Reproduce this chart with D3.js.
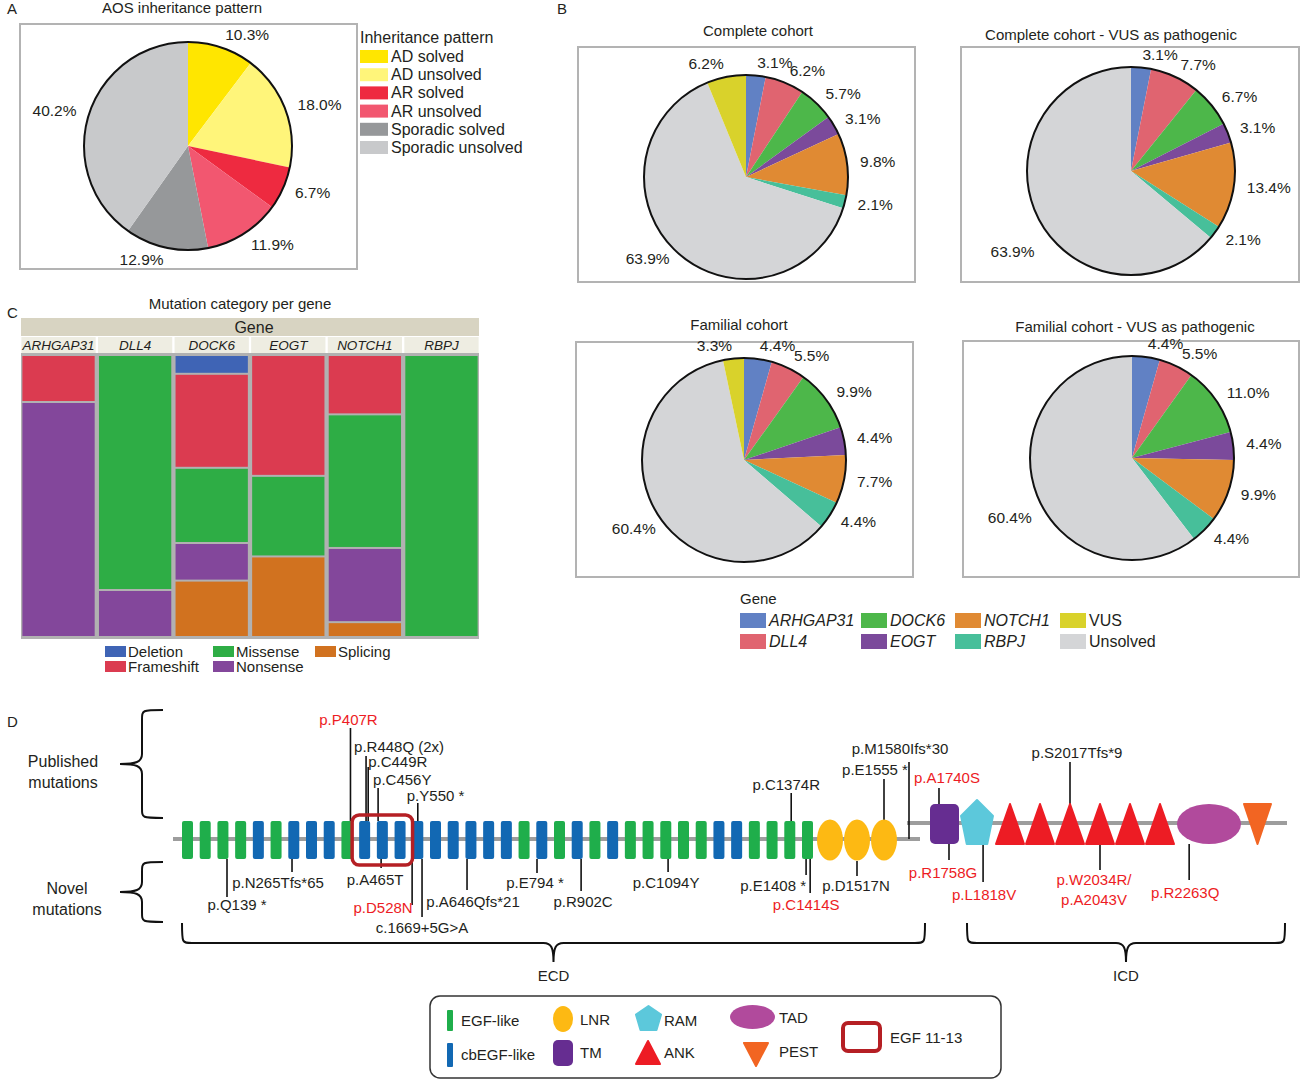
<!DOCTYPE html>
<html>
<head>
<meta charset="utf-8">
<script src="https://cdn.jsdelivr.net/npm/d3@7"></script>
<style>
  body { margin: 0; background: #fff; }
  svg { display: block; font-family: "Liberation Sans", Arial, sans-serif; }
</style>
</head>
<body>
<svg id="fig" width="1303" height="1081"></svg>
<script>
// ---------- data ----------
// A: inheritance pattern
const inheritCats   = ["AD solved", "AD unsolved", "AR solved", "AR unsolved", "Sporadic solved", "Sporadic unsolved"];
const inheritPct    = [10.3, 18.0, 6.7, 11.9, 12.9, 40.2];
const inheritColors = ["#ffe600", "#fff57a", "#ee2a40", "#f25770", "#96989a", "#c8c9cb"];

// B: gene distribution (clockwise from top)
const pieCats   = ["ARHGAP31", "DLL4", "DOCK6", "EOGT", "NOTCH1", "RBPJ", "Unsolved", "VUS"];
const pieColors = ["#6181c4", "#e06470", "#4db74a", "#7b4a9b", "#e08a33", "#47bf9a", "#d4d5d7", "#d9d22b"];
const completePct     = [3.1, 6.2, 5.7, 3.1, 9.8, 2.1, 63.9, 6.2];
const completeVusPct  = [3.1, 7.7, 6.7, 3.1, 13.4, 2.1, 63.9, 0];
const familialPct     = [4.4, 5.5, 9.9, 4.4, 7.7, 4.4, 60.4, 3.3];
const familialVusPct  = [4.4, 5.5, 11.0, 4.4, 9.9, 4.4, 60.4, 0];
const geneLegendOrder = ["ARHGAP31", "DLL4", "DOCK6", "EOGT", "NOTCH1", "RBPJ", "VUS", "Unsolved"];

// C: mutation category per gene (counts)
const mutGenes  = ["ARHGAP31", "DLL4", "DOCK6", "EOGT", "NOTCH1", "RBPJ"];
const mutCats   = ["Deletion", "Frameshift", "Missense", "Nonsense", "Splicing"];
const mutColors = ["#3f64b5", "#db3b50", "#2ead45", "#83479b", "#d1721f"];
const deletionN   = [0, 0, 1, 0, 0, 0];
const frameshiftN = [1, 0, 5, 3, 4, 0];
const missenseN   = [0, 5, 4, 2, 9, 1];
const nonsenseN   = [5, 1, 2, 0, 5, 0];
const splicingN   = [0, 0, 3, 2, 1, 0];

// D: NOTCH1 domains
const egfRepeats = "GGGGBGBBBGBBBBBBBBBGBGBGBGGGGGBBGGGG".split("").map(c => c === "G" ? "EGF" : "cbEGF");
const lnrRepeats = ["LNR", "LNR", "LNR"];
const icdDomains = ["TM", "RAM", "ANK", "ANK", "ANK", "ANK", "ANK", "ANK", "TAD", "PEST"];
const domColors = { EGF: "#1fae4b", cbEGF: "#1268b3", LNR: "#fdb913", TM: "#662d91",
                    RAM: "#5cc8db", ANK: "#ed1c24", TAD: "#b14a9c", PEST: "#f26522" };

// mutations: region, domain position, side, red = highlighted label
const mutations = [
  { name: "p.P407R",        reg: "egf", at: 9.2,   side: "up",   red: true },
  { name: "p.R448Q  (2x)",  reg: "egf", at: 10.08, side: "up",   red: false },
  { name: "p.C449R",        reg: "egf", at: 10.2,  side: "up",   red: false },
  { name: "p.C456Y",        reg: "egf", at: 10.76, side: "up",   red: false },
  { name: "p.Y550 *",       reg: "egf", at: 13,    side: "up",   red: false },
  { name: "p.C1374R",       reg: "egf", at: 34.08, side: "up",   red: false },
  { name: "p.E1555 *",      reg: "lnr", at: 2,     side: "up",   red: false },
  { name: "p.M1580Ifs*30",  reg: "jm",  at: 0,     side: "up",   red: false },
  { name: "p.A1740S",       reg: "icd", at: -0.19, dom: 0, side: "up", red: true },
  { name: "p.S2017Tfs*9",   reg: "icd", at: 0,     dom: 4, side: "up", red: false },
  { name: "p.Q139 *",       reg: "egf", at: 2.23,  side: "down", red: false },
  { name: "p.N265Tfs*65",   reg: "egf", at: 5.9,   side: "down", red: false },
  { name: "p.A465T",        reg: "egf", at: 10.93, side: "down", red: false },
  { name: "p.D528N",        reg: "egf", at: 12.68, side: "down", red: true },
  { name: "c.1669+5G>A",    reg: "egf", at: 13.24, side: "down", red: false },
  { name: "p.A646Qfs*21",   reg: "egf", at: 15.78, side: "down", red: false },
  { name: "p.E794 *",       reg: "egf", at: 19.73, side: "down", red: false },
  { name: "p.R902C",        reg: "egf", at: 22.22, side: "down", red: false },
  { name: "p.C1094Y",       reg: "egf", at: 27.13, side: "down", red: false },
  { name: "p.E1408 *",      reg: "egf", at: 34.92, side: "down", red: false },
  { name: "p.C1414S",       reg: "egf", at: 35.15, side: "down", red: true },
  { name: "p.D1517N",       reg: "lnr", at: 1,     side: "down", red: false },
  { name: "p.R1758G",       reg: "icd", at: 0.155, dom: 0, side: "down", red: true },
  { name: "p.L1818V",       reg: "icd", at: 0.19,  dom: 1, side: "down", red: true },
  { name: "p.W2034R/|p.A2043V", reg: "icd", at: 0, dom: 5, side: "down", red: true },
  { name: "p.R2263Q",       reg: "icd", at: -0.31, dom: 8, side: "down", red: true }
];

// label layout: [line end y, text dx, text baseline y, anchor]
const mutLabelLayout = {
  "p.P407R": [728, -2, 725, "middle"],
  "p.R448Q  (2x)": [756, -12, 752, "start"],
  "p.C449R": [767, 0, 767, "start"],
  "p.C456Y": [788, -5, 785, "start"],
  "p.Y550 *": [803, -11, 801, "start"],
  "p.C1374R": [793, -5, 790, "middle"],
  "p.E1555 *": [779, -9, 775, "middle"],
  "p.M1580Ifs*30": [762, -9, 754, "middle"],
  "p.A1740S": [788, 8, 783, "middle"],
  "p.S2017Tfs*9": [762, 7, 758, "middle"],
  "p.Q139 *": [897, 10, 910, "middle"],
  "p.N265Tfs*65": [872, -14, 888, "middle"],
  "p.A465T": [868, -6, 885, "middle"],
  "p.D528N": [905, -29, 913, "middle"],
  "c.1669+5G>A": [917, 0, 933, "middle"],
  "p.A646Qfs*21": [890, 6, 907, "middle"],
  "p.E794 *": [873, -2, 888, "middle"],
  "p.R902C": [891, 2, 907, "middle"],
  "p.C1094Y": [872, -2, 888, "middle"],
  "p.E1408 *": [875, -33, 891, "middle"],
  "p.C1414S": [893, -4, 910, "middle"],
  "p.D1517N": [876, -1, 891, "middle"],
  "p.R1758G": [860, -6, 878, "middle"],
  "p.L1818V": [882, 1, 900, "middle"],
  "p.W2034R/|p.A2043V": [870, -6, 885, "middle"],
  "p.R2263Q": [880, -4, 898, "middle"]
};

// ---------- drawing ----------
const svg = d3.select("#fig");
const INK = "#231f20", RED = "#ed1c24";
svg.append("rect").attr("width", 1303).attr("height", 1081).attr("fill", "#fff");

function txt(g, x, y, s, o = {}) {
  return g.append("text").attr("x", x).attr("y", y).text(s)
    .attr("font-size", o.size || 15)
    .attr("text-anchor", o.anchor || "start")
    .attr("fill", o.fill || INK)
    .attr("font-style", o.italic ? "italic" : null);
}

// bigLabel: optional [angle in degrees, distance] for the "Unsolved" label
function drawPie(cx, cy, r, values, colors, bigLabel) {
  const g = svg.append("g").attr("transform", `translate(${cx},${cy})`);
  const arcs = d3.pie().sort(null).value(d => d.v)(values.map((v, i) => ({ v, c: colors[i] })));
  const arc = d3.arc().innerRadius(0).outerRadius(r);
  g.selectAll("path").data(arcs).join("path").attr("d", arc).attr("fill", d => d.data.c);
  g.append("circle").attr("r", r).attr("fill", "none").attr("stroke", "#111").attr("stroke-width", 2);
  const maxV = d3.max(values);
  arcs.filter(d => d.data.v > 0).forEach(d => {
    let a = (d.startAngle + d.endAngle) / 2, lr = r + 13;
    if (bigLabel && d.data.v === maxV) { a = bigLabel[0] * Math.PI / 180; lr = bigLabel[1]; }
    const x = Math.sin(a) * lr, y = -Math.cos(a) * lr;
    txt(g, x, y + 5, d.data.v.toFixed(1) + "%", { anchor: x >= 0 ? "start" : "end", size: 15.5 });
  });
}

function box(x, y, w, h) {
  svg.append("rect").attr("x", x).attr("y", y).attr("width", w).attr("height", h)
    .attr("fill", "none").attr("stroke", "#b3b3b3").attr("stroke-width", 2);
}

// ---- Panel A ----
txt(svg, 7, 14, "A");
txt(svg, 182, 13, "AOS inheritance pattern", { anchor: "middle" });
box(20, 24, 337, 245);
drawPie(188, 146, 104, inheritPct, inheritColors);
txt(svg, 360, 43, "Inheritance pattern", { size: 16 });
const legA = svg.append("g");
inheritCats.forEach((c, i) => {
  const y = 50 + i * 18.2;
  legA.append("rect").attr("x", 360).attr("y", y).attr("width", 28).attr("height", 13).attr("fill", inheritColors[i]);
  txt(legA, 391, y + 12, c, { size: 16 });
});

// ---- Panel B ----
txt(svg, 557, 14, "B");
box(578, 47, 337, 235);
box(961, 47, 338, 235);
box(576, 342, 337, 235);
box(963, 341, 336, 236);
txt(svg, 758, 36, "Complete cohort", { anchor: "middle" });
txt(svg, 1111, 40, "Complete cohort - VUS as pathogenic", { anchor: "middle" });
txt(svg, 739, 330, "Familial cohort", { anchor: "middle" });
txt(svg, 1135, 332, "Familial cohort - VUS as pathogenic", { anchor: "middle" });
drawPie(746, 177, 102, completePct, pieColors, [223, 112]);
drawPie(1131, 171, 104, completeVusPct, pieColors, [230, 126]);
drawPie(744, 460, 102, familialPct, pieColors, [232, 112]);
drawPie(1132, 458, 102, familialVusPct, pieColors, [239, 117]);

txt(svg, 740, 604, "Gene");
const legB = svg.append("g");
const legBx = [740, 861, 955, 1060];
geneLegendOrder.forEach((c, i) => {
  const col = Math.floor(i / 2), row = i % 2;
  const x = legBx[col], y = 613 + row * 21;
  legB.append("rect").attr("x", x).attr("y", y).attr("width", 26).attr("height", 15)
    .attr("fill", pieColors[pieCats.indexOf(c)]);
  txt(legB, x + 29, y + 13, c, { size: 16, italic: c !== "VUS" && c !== "Unsolved" });
});

// ---- Panel C ----
txt(svg, 7, 318, "C");
txt(svg, 240, 309, "Mutation category per gene", { anchor: "middle" });
const catCounts = [deletionN, frameshiftN, missenseN, nonsenseN, splicingN];
const xC = d3.scaleBand().domain(mutGenes).range([21, 479]).paddingInner(0.03).paddingOuter(0.005);
const yC = d3.scaleLinear().domain([0, 1]).range([355, 637]);
const gC = svg.append("g");
gC.append("rect").attr("x", 21).attr("y", 318).attr("width", 458).attr("height", 18).attr("fill", "#d8d4c2");
txt(gC, 254, 333, "Gene", { anchor: "middle", size: 16 });
gC.append("rect").attr("x", 21).attr("y", 353).attr("width", 458).attr("height", 286).attr("fill", "#b1b1b1");
mutGenes.forEach((gname, gi) => {
  const x = xC(gname), w = xC.bandwidth();
  gC.append("rect").attr("x", x).attr("y", 337).attr("width", w).attr("height", 16).attr("fill", "#eeede2");
  txt(gC, x + w / 2, 350, gname, { anchor: "middle", size: 13.5, italic: true });
  const total = d3.sum(catCounts, a => a[gi]);
  let cum = 0;
  catCounts.forEach((arr, ci) => {
    const n = arr[gi];
    if (!n) return;
    const y0 = yC(cum / total), y1 = yC((cum + n) / total);
    gC.append("rect").attr("x", x + 1).attr("y", y0 + 1).attr("width", w - 2).attr("height", y1 - y0 - 2)
      .attr("fill", mutColors[ci]);
    cum += n;
  });
});
const legCx = [105, 213, 315];
mutCats.forEach((c, i) => {
  const col = Math.floor(i / 2), row = i % 2;
  const x = legCx[col], y = 646 + row * 15;
  gC.append("rect").attr("x", x).attr("y", y).attr("width", 21).attr("height", 11).attr("fill", mutColors[i]);
  txt(gC, x + 23, y + 11, c, { size: 15 });
});

// ---- Panel D ----
txt(svg, 7, 727, "D");
const gD = svg.append("g");
const yBack = 839, yIcd = 823;
const egfTop = 821, egfH = 38, egfW = 11;
const xEgf = d3.scaleLinear().domain([0, egfRepeats.length - 1]).range([187.5, 807.5]);
const xLnr = d3.scaleLinear().domain([0, lnrRepeats.length - 1]).range([830, 884]);
const jmX = 909;
const icdW = { TM: 29, RAM: 32, ANK: 30, TAD: 64, PEST: 29 };
const icdPos = [];
let cursor = 930;
icdDomains.forEach((d, i) => {
  icdPos.push({ type: d, x0: cursor, w: icdW[d] });
  cursor += icdW[d] + (d === "ANK" && icdDomains[i + 1] === "ANK" ? 0 : 2);
});
const icdTop = 804, icdBot = 844;

// backbone
gD.append("line").attr("x1", 173).attr("x2", 920).attr("y1", yBack).attr("y2", yBack)
  .attr("stroke", "#9d9d9d").attr("stroke-width", 4);
gD.append("line").attr("x1", 907).attr("x2", 1287).attr("y1", yIcd).attr("y2", yIcd)
  .attr("stroke", "#9d9d9d").attr("stroke-width", 4);

function mutX(m) {
  if (m.reg === "egf") return xEgf(m.at);
  if (m.reg === "lnr") return xLnr(m.at);
  if (m.reg === "jm") return jmX;
  const p = icdPos[m.dom];
  return p.x0 + p.w / 2 + m.at * p.w;
}
function mutStart(m) {
  if (m.reg === "egf") return m.side === "up" ? egfTop : egfTop + egfH;
  if (m.reg === "lnr") return m.side === "up" ? 820 : 861;
  if (m.reg === "jm") return yBack;
  return m.side === "up" ? icdTop : icdBot;
}

// mutation stems
mutations.forEach(m => {
  const L = mutLabelLayout[m.name];
  const x = mutX(m);
  gD.append("line").attr("x1", x).attr("x2", x).attr("y1", mutStart(m)).attr("y2", L[0])
    .attr("stroke", "#111").attr("stroke-width", 1.6);
});

// EGF repeats
gD.selectAll("rect.egf").data(egfRepeats).join("rect").attr("class", "egf")
  .attr("x", (d, i) => xEgf(i) - egfW / 2).attr("y", egfTop)
  .attr("width", egfW).attr("height", egfH).attr("rx", 2)
  .attr("fill", d => domColors[d]);
// LNR
gD.selectAll("ellipse.lnr").data(lnrRepeats).join("ellipse").attr("class", "lnr")
  .attr("cx", (d, i) => xLnr(i)).attr("cy", 840).attr("rx", 13).attr("ry", 20.5)
  .attr("fill", domColors.LNR);

function pentagon(cx, top, w, h) {
  return `M${cx},${top} L${cx + w / 2},${top + h * 0.36} L${cx + w * 0.32},${top + h} L${cx - w * 0.32},${top + h} L${cx - w / 2},${top + h * 0.36}Z`;
}
function tri(x0, top, w, h, down) {
  return down
    ? `M${x0},${top} L${x0 + w},${top} L${x0 + w / 2},${top + h}Z`
    : `M${x0 + w / 2},${top} L${x0 + w},${top + h} L${x0},${top + h}Z`;
}
function drawIcdShape(g, type, x0, top, w, h) {
  const c = domColors[type];
  if (type === "TM") g.append("rect").attr("x", x0).attr("y", top).attr("width", w).attr("height", h).attr("rx", 5).attr("fill", c);
  else if (type === "RAM") g.append("path").attr("d", pentagon(x0 + w / 2, top - 4, w, h + 4)).attr("fill", c).attr("stroke", c).attr("stroke-linejoin", "round").attr("stroke-width", 2);
  else if (type === "ANK") g.append("path").attr("d", tri(x0 + 1, top, w - 2, h, false)).attr("fill", c).attr("stroke", c).attr("stroke-linejoin", "round").attr("stroke-width", 2);
  else if (type === "TAD") g.append("ellipse").attr("cx", x0 + w / 2).attr("cy", top + h / 2).attr("rx", w / 2).attr("ry", h / 2).attr("fill", c);
  else if (type === "PEST") g.append("path").attr("d", tri(x0 + 1, top, w - 2, h, true)).attr("fill", c).attr("stroke", c).attr("stroke-linejoin", "round").attr("stroke-width", 2);
}
icdPos.forEach(p => drawIcdShape(gD, p.type, p.x0, icdTop, p.w, icdBot - icdTop));

// EGF 11-13 box
gD.append("rect").attr("x", xEgf(10) - egfW / 2 - 7).attr("y", 815)
  .attr("width", xEgf(12) - xEgf(10) + egfW + 14).attr("height", 50).attr("rx", 7)
  .attr("fill", "none").attr("stroke", "#b51f24").attr("stroke-width", 3.5);

// mutation labels
mutations.forEach(m => {
  const L = mutLabelLayout[m.name];
  const x = mutX(m) + L[1];
  m.name.split("|").forEach((s, k) => {
    txt(gD, x, L[2] + k * 20, s, { anchor: L[3], fill: m.red ? RED : INK });
  });
});

// braces
function leftBrace(x0, xs, xt, y0, y1) {
  const ym = (y0 + y1) / 2, k = 10;
  return `M${x0},${y0} C${xs},${y0} ${xs},${y0} ${xs},${y0 + k} L${xs},${ym - k} C${xs},${ym - 2} ${xs - 6},${ym} ${xt},${ym} ` +
         `C${xs - 6},${ym} ${xs},${ym + 2} ${xs},${ym + k} L${xs},${y1 - k} C${xs},${y1} ${xs},${y1} ${x0},${y1}`;
}
function downBrace(x0, x1, yTop, yS, yTip) {
  const xm = (x0 + x1) / 2, k = 10;
  return `M${x0},${yTop} C${x0},${yS} ${x0},${yS} ${x0 + k},${yS} L${xm - k},${yS} C${xm - 2},${yS} ${xm},${yS + 5} ${xm},${yTip} ` +
         `C${xm},${yS + 5} ${xm + 2},${yS} ${xm + k},${yS} L${x1 - k},${yS} C${x1},${yS} ${x1},${yS} ${x1},${yTop}`;
}
const braceStyle = p => p.attr("fill", "none").attr("stroke", "#111").attr("stroke-width", 2);
gD.append("path").attr("d", leftBrace(163, 142, 120, 710, 818)).call(braceStyle);
gD.append("path").attr("d", leftBrace(163, 142, 120, 862, 922)).call(braceStyle);
gD.append("path").attr("d", downBrace(182, 925, 923, 943, 962)).call(braceStyle);
gD.append("path").attr("d", downBrace(967, 1285, 923, 943, 962)).call(braceStyle);
txt(gD, 63, 767, "Published", { anchor: "middle", size: 16 });
txt(gD, 63, 788, "mutations", { anchor: "middle", size: 16 });
txt(gD, 67, 894, "Novel", { anchor: "middle", size: 16 });
txt(gD, 67, 915, "mutations", { anchor: "middle", size: 16 });
txt(gD, 553.5, 981, "ECD", { anchor: "middle" });
txt(gD, 1126, 981, "ICD", { anchor: "middle" });

// legend
const gL = svg.append("g");
gL.append("rect").attr("x", 430).attr("y", 996).attr("width", 571).attr("height", 82).attr("rx", 10)
  .attr("fill", "#fff").attr("stroke", "#333").attr("stroke-width", 1.5);
gL.append("rect").attr("x", 447).attr("y", 1010).attr("width", 6).attr("height", 21).attr("rx", 1).attr("fill", domColors.EGF);
gL.append("rect").attr("x", 447).attr("y", 1043).attr("width", 6).attr("height", 24).attr("rx", 1).attr("fill", domColors.cbEGF);
txt(gL, 461, 1026, "EGF-like");
txt(gL, 461, 1060, "cbEGF-like");
gL.append("ellipse").attr("cx", 563).attr("cy", 1019).attr("rx", 10).attr("ry", 13).attr("fill", domColors.LNR);
drawIcdShape(gL, "TM", 553, 1040, 20, 26);
txt(gL, 580, 1025, "LNR");
txt(gL, 580, 1058, "TM");
drawIcdShape(gL, "RAM", 636, 1010, 25, 20);
drawIcdShape(gL, "ANK", 635, 1041, 26, 23);
txt(gL, 664, 1026, "RAM");
txt(gL, 664, 1058, "ANK");
drawIcdShape(gL, "TAD", 730, 1005, 45, 24);
drawIcdShape(gL, "PEST", 743, 1043, 26, 23);
txt(gL, 779, 1023, "TAD");
txt(gL, 779, 1057, "PEST");
gL.append("rect").attr("x", 843).attr("y", 1023).attr("width", 37).attr("height", 28).attr("rx", 5)
  .attr("fill", "none").attr("stroke", "#b51f24").attr("stroke-width", 4);
txt(gL, 890, 1043, "EGF 11-13");
</script>
</body>
</html>
